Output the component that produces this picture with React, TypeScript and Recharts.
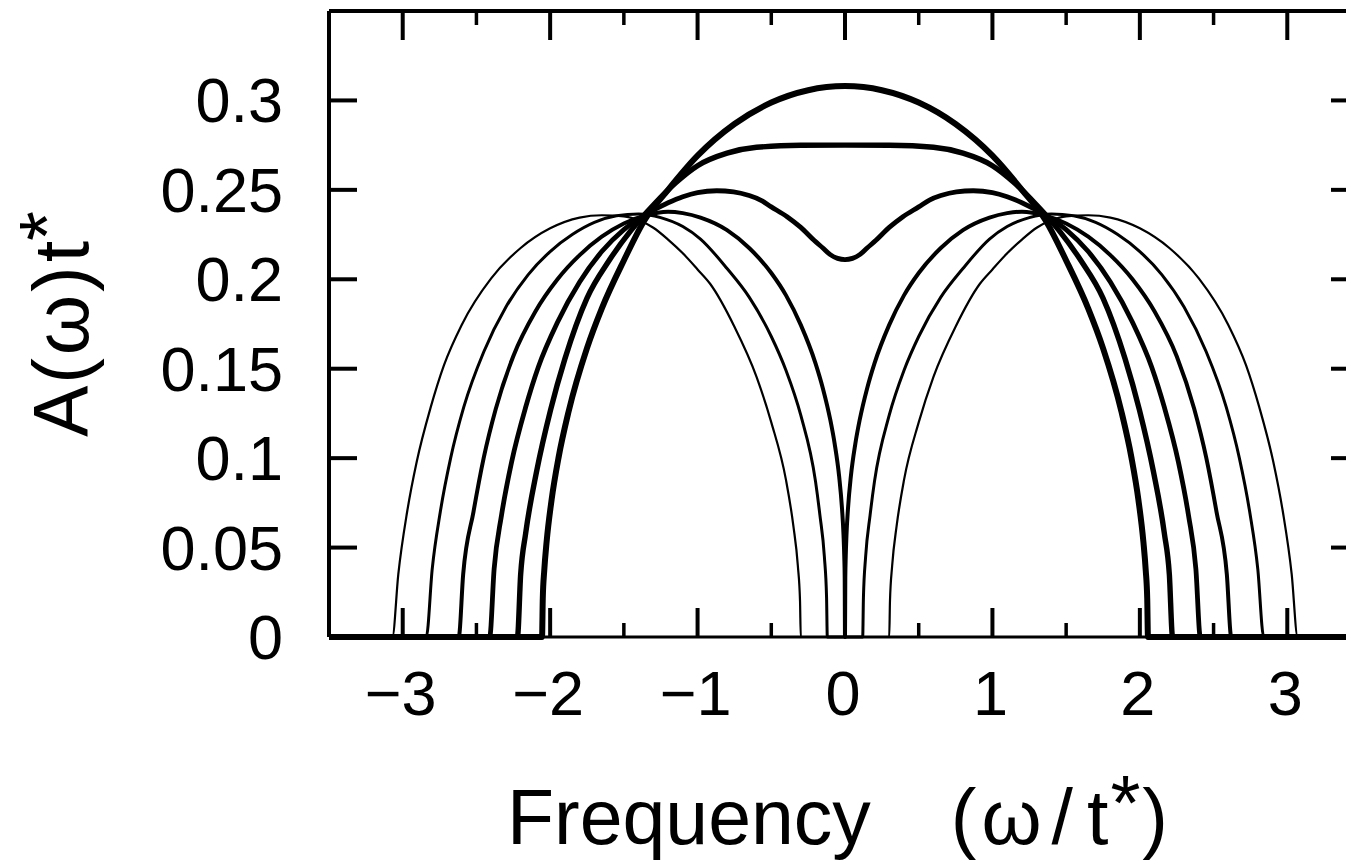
import React from 'react';
import { LineChart, Line, XAxis, YAxis, Label } from 'recharts';

type Pt = [number, number];

const xTicks = [-3, -2.5, -2, -1.5, -1, -0.5, 0, 0.5, 1, 1.5, 2, 2.5, 3];
const yTicks = [0, 0.05, 0.1, 0.15, 0.2, 0.25, 0.3];
const xDomain: [number, number] = [-3.5, 3.5];
const yDomain: [number, number] = [0, 0.35];

// curve 1: near-semicircle, highest peak
const curve1: Pt[] = [
  [-3.5, 0], [-2.055, 0], [-2.05, 0.0214], [-2.04, 0.0371], [-2.024, 0.0532], [-1.99, 0.0768],
  [-1.943, 0.1003], [-1.875, 0.126], [-1.75, 0.1615], [-1.65, 0.1836], [-1.5, 0.2105], [-1.36, 0.233],
  [-1.2, 0.25], [-1.0, 0.2691], [-0.75, 0.2868], [-0.5, 0.2988], [-0.25, 0.3057], [0, 0.308],
  [0.25, 0.3057], [0.5, 0.2988], [0.75, 0.2868], [1.0, 0.2691], [1.2, 0.25], [1.36, 0.233],
  [1.5, 0.2105], [1.65, 0.1836], [1.75, 0.1615], [1.875, 0.126], [1.943, 0.1003], [1.99, 0.0768],
  [2.024, 0.0532], [2.04, 0.0371], [2.05, 0.0214], [2.055, 0], [3.5, 0],
];

// curve 2: flat top
const curve2: Pt[] = [
  [-3.5, 0], [-2.222, 0], [-2.2, 0.035], [-2.166, 0.058], [-2.092, 0.0925], [-1.997, 0.127],
  [-1.9, 0.1555], [-1.75, 0.1895], [-1.6, 0.2105], [-1.45, 0.2275], [-1.3, 0.2415], [-1.15, 0.2538],
  [-1.0, 0.2635], [-0.8, 0.2705], [-0.6, 0.2738], [-0.3, 0.2749], [0, 0.275],
  [0.3, 0.2749], [0.6, 0.2738], [0.8, 0.2705], [1.0, 0.2635], [1.15, 0.2538], [1.3, 0.2415],
  [1.45, 0.2275], [1.6, 0.2105], [1.75, 0.1895], [1.9, 0.1555], [1.997, 0.127], [2.092, 0.0925],
  [2.166, 0.058], [2.2, 0.035], [2.222, 0], [3.5, 0],
];

// curve 3: two peaks with a dip at zero
const curve3: Pt[] = [
  [-3.5, 0], [-2.41, 0], [-2.38, 0.038], [-2.33, 0.068], [-2.261, 0.098], [-2.166, 0.1285],
  [-2.08, 0.151], [-1.95, 0.176], [-1.8, 0.1985], [-1.65, 0.2155], [-1.5, 0.2278], [-1.36, 0.2358],
  [-1.2, 0.2428], [-1.1, 0.2462], [-1.0, 0.2485], [-0.87, 0.2495], [-0.756, 0.2489], [-0.65, 0.2468],
  [-0.573, 0.2443], [-0.5, 0.2405], [-0.393, 0.235], [-0.3, 0.229], [-0.21, 0.2218], [-0.15, 0.2175],
  [-0.1, 0.2138], [-0.05, 0.2117], [0, 0.211],
  [0.05, 0.2117], [0.1, 0.2138], [0.15, 0.2175], [0.21, 0.2218], [0.3, 0.229], [0.393, 0.235],
  [0.5, 0.2405], [0.573, 0.2443], [0.65, 0.2468], [0.756, 0.2489], [0.87, 0.2495], [1.0, 0.2485],
  [1.1, 0.2462], [1.2, 0.2428], [1.36, 0.2358], [1.5, 0.2278], [1.65, 0.2155], [1.8, 0.1985],
  [1.95, 0.176], [2.08, 0.151], [2.166, 0.1285], [2.261, 0.098], [2.33, 0.068], [2.38, 0.038],
  [2.41, 0], [3.5, 0],
];

// curve 4: closes to zero at the centre
const curve4: Pt[] = [
  [-3.5, 0], [-2.62, 0], [-2.59, 0.035], [-2.52, 0.07], [-2.451, 0.1], [-2.369, 0.1275],
  [-2.25, 0.157], [-2.1, 0.182], [-1.95, 0.2], [-1.8, 0.2135], [-1.65, 0.2238], [-1.5, 0.2312],
  [-1.36, 0.2355], [-1.2, 0.2378], [-1.1, 0.237], [-0.98, 0.2345], [-0.8, 0.2275], [-0.65, 0.2175],
  [-0.5, 0.2035], [-0.4, 0.191], [-0.3, 0.1745], [-0.2, 0.153], [-0.15, 0.139], [-0.1, 0.1215],
  [-0.07, 0.108], [-0.04, 0.09], [-0.02, 0.0715], [-0.01, 0.057], [-0.005, 0.045], [-0.002, 0.033],
  [0, 0],
  [0.002, 0.033], [0.005, 0.045], [0.01, 0.057], [0.02, 0.0715], [0.04, 0.09], [0.07, 0.108],
  [0.1, 0.1215], [0.15, 0.139], [0.2, 0.153], [0.3, 0.1745], [0.4, 0.191], [0.5, 0.2035],
  [0.65, 0.2175], [0.8, 0.2275], [0.98, 0.2345], [1.1, 0.237], [1.2, 0.2378], [1.36, 0.2355],
  [1.5, 0.2312], [1.65, 0.2238], [1.8, 0.2135], [1.95, 0.2], [2.1, 0.182], [2.25, 0.157],
  [2.369, 0.1275], [2.451, 0.1], [2.52, 0.07], [2.59, 0.035], [2.62, 0], [3.5, 0],
];

// curve 5: small gap
const curve5: Pt[] = [
  [-3.5, 0], [-2.84, 0], [-2.8, 0.038], [-2.745, 0.07], [-2.675, 0.1], [-2.586, 0.1285],
  [-2.45, 0.1595], [-2.3, 0.1845], [-2.15, 0.2025], [-2.0, 0.2155], [-1.85, 0.225], [-1.7, 0.2318],
  [-1.55, 0.2355], [-1.4, 0.2365], [-1.25, 0.2345], [-1.1, 0.2295], [-0.98, 0.2225], [-0.8, 0.206],
  [-0.65, 0.19], [-0.5, 0.168], [-0.4, 0.149], [-0.3, 0.124], [-0.2, 0.087], [-0.17, 0.068],
  [-0.14, 0.045], [-0.125, 0.022], [-0.12, 0],
  [0.12, 0], [0.125, 0.022], [0.14, 0.045], [0.17, 0.068], [0.2, 0.087], [0.3, 0.124],
  [0.4, 0.149], [0.5, 0.168], [0.65, 0.19], [0.8, 0.206], [0.98, 0.2225], [1.1, 0.2295],
  [1.25, 0.2345], [1.4, 0.2365], [1.55, 0.2355], [1.7, 0.2318], [1.85, 0.225], [2.0, 0.2155],
  [2.15, 0.2025], [2.3, 0.1845], [2.45, 0.1595], [2.586, 0.1285], [2.675, 0.1], [2.745, 0.07],
  [2.8, 0.038], [2.84, 0], [3.5, 0],
];

// curve 6: widest gap, thinnest line
const curve6: Pt[] = [
  [-3.5, 0], [-3.07, 0], [-3.03, 0.035], [-2.97, 0.07], [-2.905, 0.098], [-2.81, 0.1285],
  [-2.72, 0.152], [-2.6, 0.1745], [-2.4, 0.2005], [-2.2, 0.2175], [-2.0, 0.2285], [-1.8, 0.2345],
  [-1.65, 0.2358], [-1.5, 0.2352], [-1.4, 0.233], [-1.3, 0.2288], [-1.2, 0.2222], [-1.1, 0.2145],
  [-1.0, 0.2055], [-0.915, 0.1975], [-0.75, 0.1735], [-0.6, 0.1455], [-0.5, 0.12], [-0.4, 0.0877],
  [-0.35, 0.062], [-0.32, 0.04], [-0.305, 0.02], [-0.3, 0],
  [0.3, 0], [0.305, 0.02], [0.32, 0.04], [0.35, 0.062], [0.4, 0.0877], [0.5, 0.12], [0.6, 0.1455],
  [0.75, 0.1735], [0.915, 0.1975], [1.0, 0.2055], [1.1, 0.2145], [1.2, 0.2222], [1.3, 0.2288],
  [1.4, 0.233], [1.5, 0.2352], [1.65, 0.2358], [1.8, 0.2345], [2.0, 0.2285], [2.2, 0.2175],
  [2.4, 0.2005], [2.6, 0.1745], [2.72, 0.152], [2.81, 0.1285], [2.905, 0.098], [2.97, 0.07],
  [3.03, 0.035], [3.07, 0], [3.5, 0],
];

const curves: Pt[][] = [curve6, curve5, curve4, curve3, curve2, curve1];
const lineWidths = [2.2, 3, 4, 4.8, 5.4, 6];

const toRows = (pts: Pt[]) => pts.map(([x, y]) => ({ x, y }));

const FONT = '"Liberation Sans", Arial, Helvetica, sans-serif';

const fmtX = (v: number) => (v < 0 ? '\u2212' + Math.abs(v) : String(v));

function BottomTick(props: any) {
  const { x, y, payload } = props;
  const v = payload.value as number;
  const major = Number.isInteger(v);
  return (
    <g>
      <line x1={x} y1={y} x2={x} y2={y - (major ? 29 : 14)} stroke="#000" strokeWidth={major ? 4 : 3.5} />
      {major && (
        <text x={x - 2} y={y + 78} textAnchor="middle" fontSize={63} fontFamily={FONT} fill="#000">
          {fmtX(v)}
        </text>
      )}
    </g>
  );
}

function TopTick(props: any) {
  const { x, y, payload } = props;
  const v = payload.value as number;
  const major = Number.isInteger(v);
  return <line x1={x} y1={y} x2={x} y2={y + (major ? 29 : 14)} stroke="#000" strokeWidth={major ? 4 : 3.5} />;
}

function LeftTick(props: any) {
  const { x, y, payload } = props;
  const v = payload.value as number;
  return (
    <g>
      <line x1={x} y1={y} x2={x + 28} y2={y} stroke="#000" strokeWidth={4} />
      <text x={x - 46} y={y + 22} textAnchor="end" fontSize={63} fontFamily={FONT} fill="#000">
        {String(v)}
      </text>
    </g>
  );
}

function RightTick(props: any) {
  const { x, y } = props;
  return <line x1={x} y1={y} x2={x - 30} y2={y} stroke="#000" strokeWidth={4} />;
}

function XTitle(props: any) {
  const vb = props.viewBox || { x: 0, y: 0, width: 0, height: 0 };
  const sx = vb.x + 178;
  const base = vb.y + 207;
  return (
    <text x={sx} y={base} textAnchor="start" fontSize={77} fontFamily={FONT} fill="#000">
      <tspan>Frequency</tspan>
      <tspan dx={80}>(</tspan>
      <tspan dx={5}>ω</tspan>
      <tspan dx={10}>/</tspan>
      <tspan dx={14}>t</tspan>
      <tspan dx={2} dy={-14}>*</tspan>
      <tspan dy={14} dx={2}>)</tspan>
    </text>
  );
}

function YTitle(props: any) {
  const vb = props.viewBox || { x: 0, y: 0, width: 0, height: 0 };
  const cy = vb.y + vb.height / 2;
  const bx = vb.x + 88;
  return (
    <text transform={`translate(${bx},${cy}) rotate(-90)`} textAnchor="middle" fontSize={77} fontFamily={FONT} fill="#000">
      <tspan>A</tspan>
      <tspan dx={2}>(</tspan>
      <tspan dx={3}>ω</tspan>
      <tspan dx={3}>)</tspan>
      <tspan dx={4}>t</tspan>
      <tspan dy={-14}>*</tspan>
    </text>
  );
}

export default function App() {
  const axisLine = { stroke: '#000', strokeWidth: 4 };
  return (
    <div style={{ width: 1346, height: 862, overflow: 'hidden', background: '#fff' }}>
      <style>{'body{margin:0;overflow:hidden;background:#fff}'}</style>
      <LineChart width={1346} height={862} margin={{ top: 0, right: -16, bottom: 0, left: 0 }}>
        <XAxis
          xAxisId="b"
          type="number"
          dataKey="x"
          domain={xDomain}
          ticks={xTicks}
          interval={0}
          height={225}
          tickSize={0}
          tickMargin={0}
          tickLine={false}
          axisLine={{ stroke: '#000', strokeWidth: 3 }}
          tick={<BottomTick />}
          allowDataOverflow
        >
          <Label content={<XTitle />} />
        </XAxis>
        <XAxis
          xAxisId="t"
          orientation="top"
          type="number"
          dataKey="x"
          domain={xDomain}
          ticks={xTicks}
          interval={0}
          height={11}
          tickSize={0}
          tickMargin={0}
          tickLine={false}
          axisLine={axisLine}
          tick={<TopTick />}
          allowDataOverflow
        />
        <YAxis
          yAxisId="l"
          type="number"
          domain={yDomain}
          ticks={yTicks}
          interval={0}
          width={329}
          tickSize={0}
          tickMargin={0}
          tickLine={false}
          axisLine={axisLine}
          tick={<LeftTick />}
        >
          <Label content={<YTitle />} />
        </YAxis>
        <YAxis
          yAxisId="r"
          orientation="right"
          type="number"
          domain={yDomain}
          ticks={yTicks}
          interval={0}
          width={1}
          tickSize={0}
          tickMargin={0}
          tickLine={false}
          axisLine={axisLine}
          tick={<RightTick />}
        />
        <Line
          data={toRows(curve1)}
          dataKey="y"
          xAxisId="t"
          yAxisId="r"
          stroke="none"
          dot={false}
          activeDot={false}
          isAnimationActive={false}
        />
        {curves.map((c, i) => (
          <Line
            key={i}
            data={toRows(c)}
            dataKey="y"
            xAxisId="b"
            yAxisId="l"
            type="monotone"
            stroke="#000"
            strokeWidth={lineWidths[i]}
            strokeLinejoin="round"
            dot={false}
            activeDot={false}
            isAnimationActive={false}
          />
        ))}
      </LineChart>
    </div>
  );
}
